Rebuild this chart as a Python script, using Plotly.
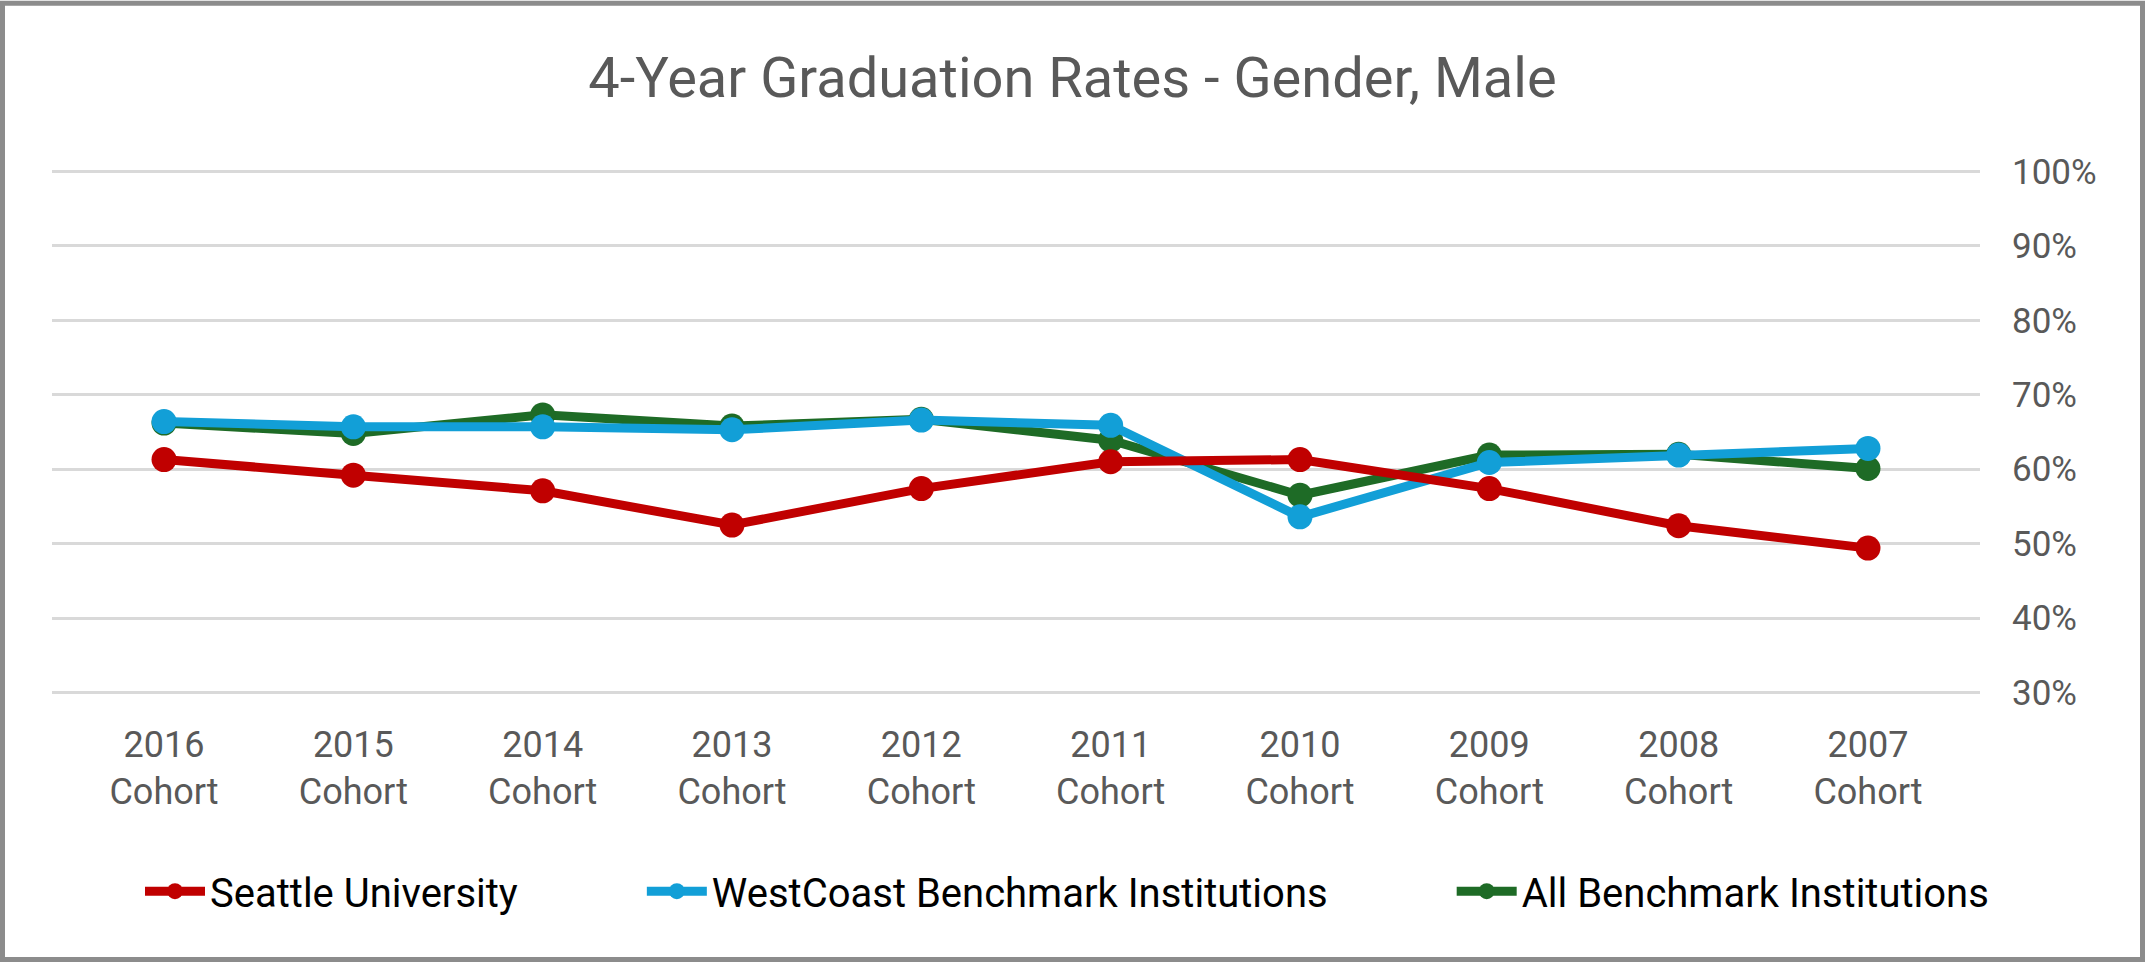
import plotly.graph_objects as go

# %% data
cohorts = ['2007<br>Cohort', '2008<br>Cohort', '2009<br>Cohort', '2010<br>Cohort',
           '2011<br>Cohort', '2012<br>Cohort', '2013<br>Cohort', '2014<br>Cohort',
           '2015<br>Cohort', '2016<br>Cohort']

all_benchmark = [60.1, 62.0, 61.9, 56.5, 63.9, 66.7, 65.8, 67.3, 64.8, 66.2]
westcoast_benchmark = [62.8, 61.9, 60.9, 53.6, 65.9, 66.6, 65.3, 65.7, 65.7, 66.4]
seattle_u = [49.4, 52.4, 57.4, 61.3, 61.0, 57.4, 52.5, 57.1, 59.2, 61.3]

y_ticks = [30, 40, 50, 60, 70, 80, 90, 100]

# %% figure
W, H = 2145, 963
ml, mr = 52, 165
y_lo, y_hi = 29.8, 100.2
px_per_pct = (693 - 171) / 70.0
top_px = 171 - (y_hi - 100) * px_per_pct
bot_px = 693 + (30 - y_lo) * px_per_pct
mt, mb = top_px, H - bot_px
pw, ph = W - ml - mr, bot_px - top_px

font = 'Roboto, sans-serif'
pad = '\u00a0'

fig = go.Figure()

series = [
    ('All Benchmark Institutions', all_benchmark, '#1E6B26'),
    ('WestCoast Benchmark Institutions' + pad * 12, westcoast_benchmark, '#129FD7'),
    ('Seattle University' + pad * 12, seattle_u, '#C00000'),
]
for name, vals, color in series:
    fig.add_trace(go.Scatter(
        x=cohorts,
        y=vals,
        mode='lines+markers',
        name=name,
        line=dict(color=color, width=9),
        marker=dict(color=color, size=25)))

# outer border of the chart
fig.add_shape(
    type='rect', xref='paper', yref='paper',
    x0=(2.5 - ml) / pw, x1=(W - 2.5 - ml) / pw,
    y0=-(H - 2.5 - bot_px) / ph, y1=1 + (top_px - 2.5) / ph,
    line=dict(color='#8C8C8C', width=5), fillcolor='rgba(0,0,0,0)', layer='above')

fig.update_layout(
    width=W,
    height=H,
    margin=dict(l=ml, r=mr, t=mt, b=mb, pad=0),
    paper_bgcolor='white',
    plot_bgcolor='white',
    font=dict(family=font, color='#595959', size=35),
    title=dict(text='4-Year Graduation Rates - Gender, Male',
               x=0.5, xanchor='center', y=1 - 77 / H, yanchor='middle',
               font=dict(size=56, color='#595959', family=font)),
    showlegend=True,
    legend=dict(orientation='h', traceorder='reversed',
                x=(140 - ml) / pw, xanchor='left',
                y=-(892 - bot_px) / ph, yanchor='middle',
                itemwidth=60,
                font=dict(size=40, color='#000000', family=font)),
    xaxis=dict(autorange='reversed', showgrid=False, zeroline=False,
               showline=False, ticks='', tickfont=dict(size=36, color='#595959'),
               ticklabelstandoff=26),
    yaxis=dict(side='right', range=[y_lo, y_hi], tickvals=y_ticks,
               ticktext=[f'{v}%' for v in y_ticks],
               showgrid=True, gridcolor='#D9D9D9', gridwidth=3,
               zeroline=False, showline=False, ticks='',
               tickfont=dict(size=35, color='#595959'),
               ticklabelstandoff=31),
)

fig.write_html('out.html', config={'displayModeBar': False},
               post_script="document.body.style.margin='0px';")
